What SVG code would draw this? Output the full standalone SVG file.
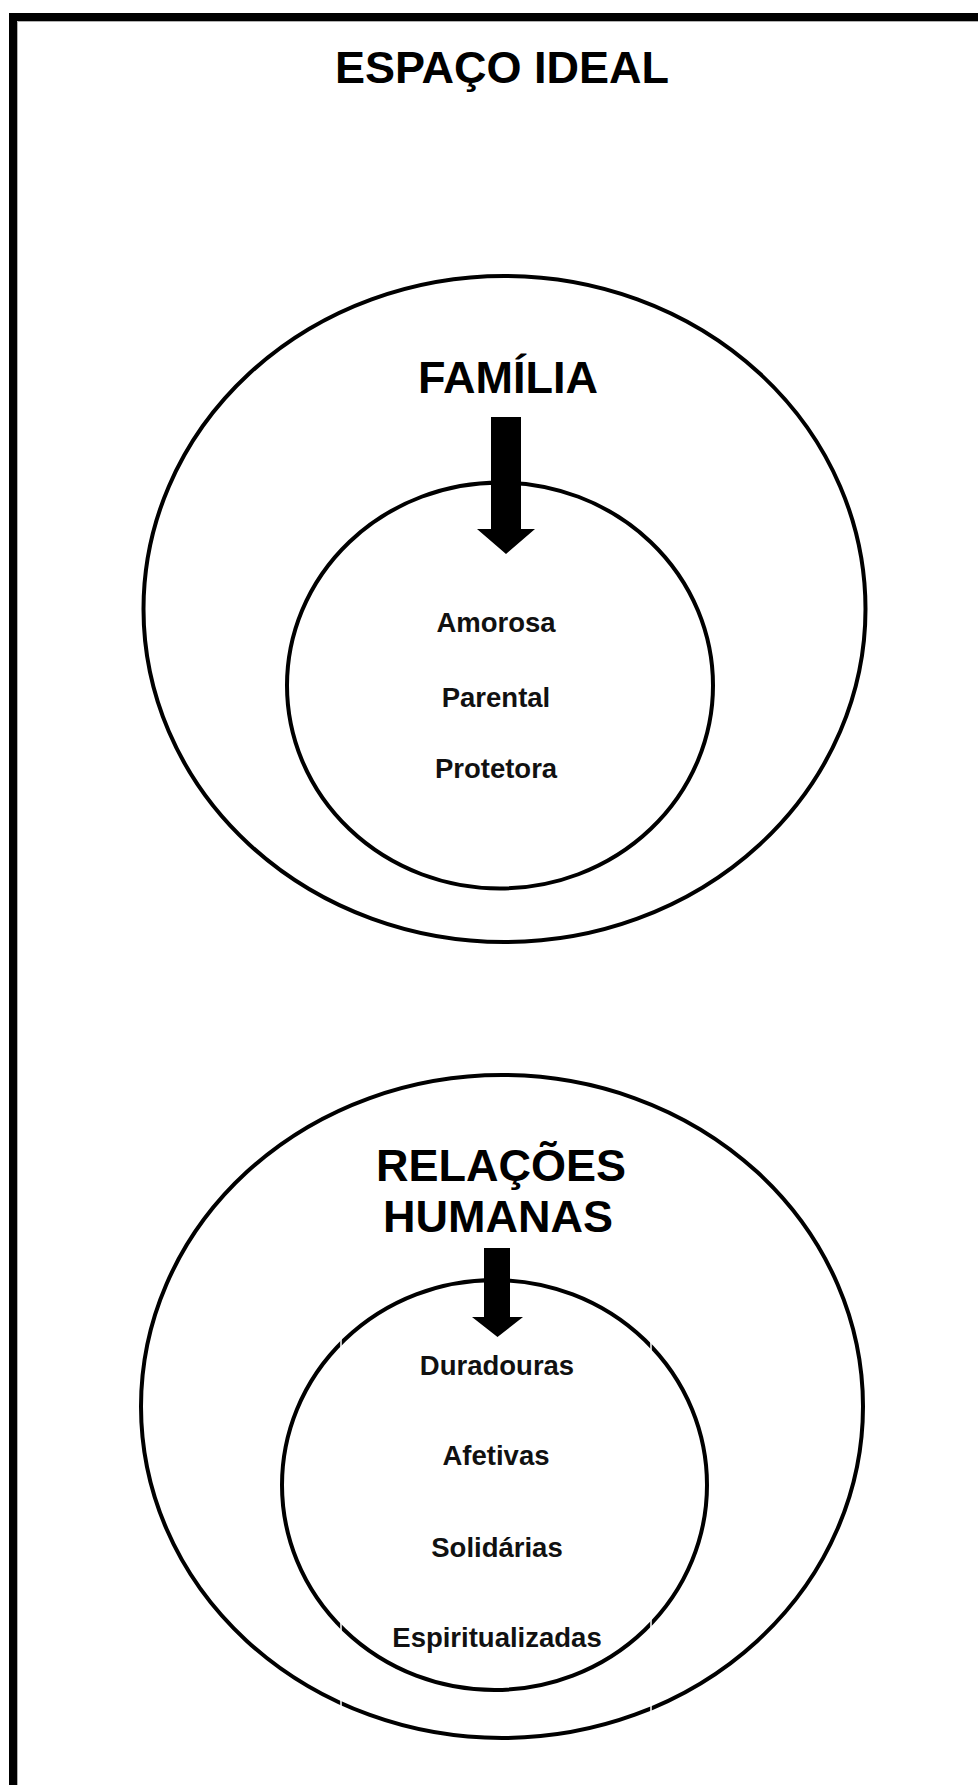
<svg xmlns="http://www.w3.org/2000/svg" width="978" height="1785" viewBox="0 0 978 1785">
<style>
.ring{fill:none;stroke:#000;stroke-width:4}
.head{font-family:"Liberation Sans",Arial,sans-serif;font-weight:bold;font-size:45px;fill:#000;text-anchor:middle}
.item{font-family:"Liberation Sans",Arial,sans-serif;font-weight:bold;font-size:27.5px;fill:#111;text-anchor:middle}
.arrow{fill:#000}
</style>
<rect width="978" height="1785" fill="#fff"/>
<g id="frame">
<path d="M13,1785 V17 H978" fill="none" stroke="#000" stroke-width="8"/>
<path d="M17.5,1785 V21.5 H978" fill="none" stroke="#b0b0b0" stroke-width="1"/>
</g>
<g id="title">
<text class="head" x="502" y="83">ESPAÇO IDEAL</text>
</g>
<g id="familia">
<ellipse class="ring" cx="504.5" cy="609" rx="361" ry="333"/>
<text class="head" x="508" y="393" font-size="44">FAMÍLIA</text>
</g>
<g id="familia-vinculos">
<ellipse class="ring" cx="500" cy="685.5" rx="213" ry="203"/>
<text class="item" x="496" y="632">Amorosa</text>
<text class="item" x="496" y="707">Parental</text>
<text class="item" x="496" y="778">Protetora</text>
</g>
<g id="relacoes">
<ellipse class="ring" cx="502" cy="1406.5" rx="361" ry="331.5"/>
<text class="head" x="501" y="1181">RELAÇÕES</text>
<text class="head" x="498" y="1232">HUMANAS</text>
</g>
<g id="relacoes-qualidades">
<ellipse class="ring" cx="494.5" cy="1485" rx="212.5" ry="205"/>
<text class="item" x="497" y="1375" font-size="28">Duradouras</text>
<text class="item" x="496" y="1465" font-size="28">Afetivas</text>
<text class="item" x="497" y="1557" font-size="28">Solidárias</text>
<text class="item" x="497" y="1647" font-size="28">Espiritualizadas</text>
<path d="M341,1325 V1720 M651,1325 V1720" stroke="#fff" stroke-width="1.5"/>
</g>
<g id="connectors">
<polygon class="arrow" points="491,417 521,417 521,529 535,529 506,554 477,529 491,529"/>
<polygon class="arrow" points="484,1248 510,1248 510,1317 523,1317 497.5,1337 472,1317 484,1317"/>
</g>
</svg>
